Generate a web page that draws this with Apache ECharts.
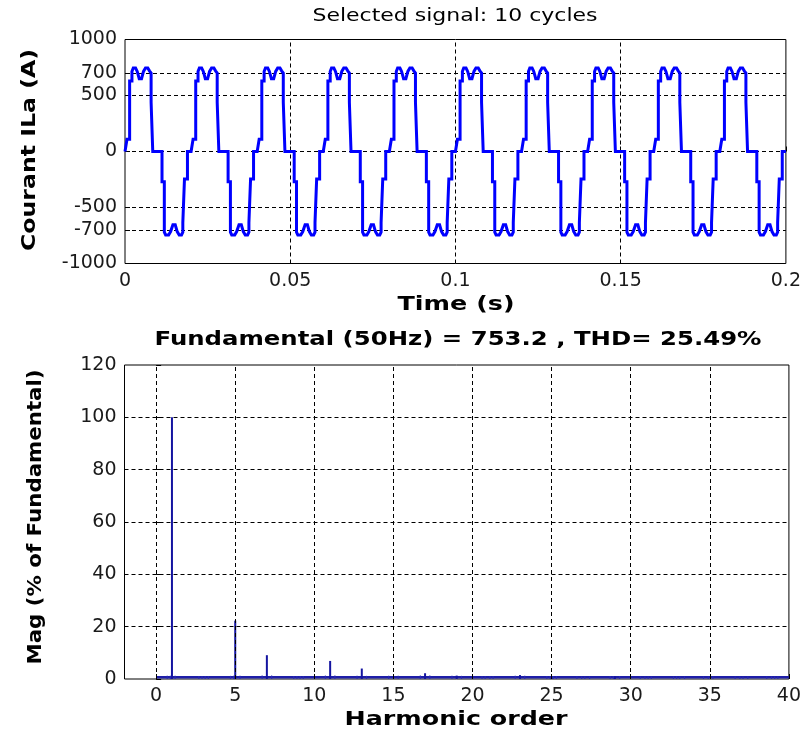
<!DOCTYPE html>
<html>
<head>
<meta charset="utf-8">
<script src="https://cdn.jsdelivr.net/npm/echarts@6/dist/echarts.min.js"></script>
<style>
  html, body { margin: 0; padding: 0; background: #fff; }
  #chart { width: 804px; height: 735px; }
</style>
</head>
<body>
<div id="chart"></div>
<script>
// ---- Line current i_La: one period (ms from the cycle start, amperes) ----
const periodTimeMs = [0, 0.6, 0.6, 1.4, 1.4, 2.1, 2.1, 2.5, 3.2, 3.7, 4.3, 5.0, 5.6, 6.2, 6.9, 7.4, 7.9, 7.9, 8.4, 8.4,
  11.2, 11.2, 11.9, 11.9, 12.3, 13.2, 13.8, 14.5, 15.2, 15.8, 16.4, 17.1, 17.5, 17.5, 18.0, 18.0, 18.9, 18.9, 20.0];
const periodCurrent = [0, 0, 110, 110, 630, 630, 715, 745, 745, 715, 650, 650, 715, 745, 745, 720, 700, 440, 440, 0,
  0, -270, -270, -720, -745, -745, -715, -655, -655, -715, -745, -745, -720, -635, -635, -245, -245, 0, 0];
// Start time (s) of each of the 10 selected cycles
const cycleStart = [0, 0.02, 0.04, 0.06, 0.08, 0.10, 0.12, 0.14, 0.16, 0.18];

// ---- FFT of the selected window ----
const harmonicOrder = [1, 5, 7, 11, 13, 17, 19, 23, 25, 29];
const harmonicMag = [100, 22.3, 9.1, 6.9, 4.0, 2.2, 1.3, 1.5, 0.5, 1.0];
// small interharmonic components (5 Hz bins)
const interOrder = [0.7, 0.9, 1.2, 2.7, 2.9, 3.1, 3.3, 4.7, 4.9, 5.3, 6.7, 7.3, 8.7, 8.9, 9.1, 9.3,
  10.7, 11.3, 12.7, 13.3, 14.7, 15.0, 15.3, 16.7, 17.3, 18.7, 19.3, 20.6, 20.8, 21.1, 21.3,
  22.7, 23.3, 24.7, 24.9, 25.1, 25.3, 26.6, 26.9, 27.1, 27.4, 28.7, 28.9, 29.3, 30.6, 30.9, 31.1, 31.3,
  32.7, 32.9, 33.1, 33.4, 34.6, 34.9, 35.2, 36.6, 36.9, 37.1, 37.4, 38.6, 38.9, 39.1, 39.3];
const interMag = [1.2, 1.2, 1.2, 1.1, 1.1, 1.1, 1.1, 1.2, 1.2, 1.2, 1.3, 1.3, 1.1, 1.1, 1.1, 1.1,
  1.3, 1.3, 1.2, 1.2, 1.2, 1.2, 1.2, 1.3, 1.3, 1.2, 1.2, 1.1, 1.1, 1.1, 1.1,
  1.2, 1.2, 1.1, 1.1, 1.1, 1.1, 1.0, 1.0, 1.0, 1.0, 1.1, 1.1, 1.1, 1.0, 1.0, 1.0, 1.0,
  1.0, 1.0, 1.0, 1.0, 1.0, 1.0, 1.0, 1.0, 1.0, 1.0, 1.0, 1.0, 1.0, 1.0, 1.0];
const spectrumSpan = [0, 40];

// ---- Tick labels ----
const timeTicks = [0, 0.05, 0.1, 0.15, 0.2];
const currentTicks = [-1000, -700, -500, 0, 500, 700, 1000];
const orderTicks = [0, 5, 10, 15, 20, 25, 30, 35, 40];
const magTicks = [0, 20, 40, 60, 80, 100, 120];

// ---- Texts ----
const topTitle = 'Selected signal: 10 cycles';
const topYName = 'Courant ILa (A)';
const topXName = 'Time (s)';
const fftTitle = 'Fundamental (50Hz) = 753.2 , THD= 25.49%';
const fftYName = 'Mag (% of Fundamental)';
const fftXName = 'Harmonic order';

const waveform = cycleStart.flatMap(t0 => periodTimeMs.map((ms, i) => [t0 + ms / 1000, periodCurrent[i]]));
const harmonics = harmonicOrder.map((h, i) => [h, harmonicMag[i]]);
const interharmonics = interOrder.map((h, i) => [h, interMag[i]]);

const FONT = '"DejaVu Sans", "Liberation Sans", sans-serif';
const TICK_FONT = { fontFamily: FONT, fontSize: 19, color: '#1a1a1a' };
const GRID_DASH = { color: '#000', width: 1, type: [4, 3] };

// stretch a label horizontally so that it spans a given width
const measureCtx = document.createElement('canvas').getContext('2d');
function wideText(text, cx, cy, size, weight, span, vertical) {
  measureCtx.font = weight + ' ' + size + 'px "DejaVu Sans"';
  const w = measureCtx.measureText(text).width;
  return {
    type: 'text', x: cx, y: cy, silent: true,
    rotation: vertical ? Math.PI / 2 : 0,
    scaleX: span / w,
    style: {
      text, fill: '#000', fontFamily: 'DejaVu Sans', fontSize: size, fontWeight: weight,
      align: 'center', verticalAlign: 'middle', textAlign: 'center', textVerticalAlign: 'middle'
    }
  };
}

function valueAxis(gridIndex, min, max, ticks) {
  return {
    type: 'value', gridIndex, min, max,
    axisLine: { show: false },
    splitLine: { show: false },
    axisTick: { show: true, inside: true, length: 5, customValues: ticks, lineStyle: { color: '#000' } },
    axisLabel: Object.assign({ customValues: ticks, formatter: v => String(v) }, TICK_FONT)
  };
}

function gridLines(xi, yi, xs, ys) {
  return {
    type: 'line', xAxisIndex: xi, yAxisIndex: yi, data: [], z: 1, silent: true,
    markLine: {
      silent: true, symbol: ['none', 'none'], label: { show: false }, animation: false,
      lineStyle: GRID_DASH, emphasis: { disabled: true },
      data: xs.map(v => ({ xAxis: v })).concat(ys.map(v => ({ yAxis: v })))
    }
  };
}

function stems(data, width, color) {
  return {
    type: 'custom', xAxisIndex: 1, yAxisIndex: 1, data, z: 4, silent: true,
    renderItem(params, api) {
      const base = api.coord([api.value(0), 0]);
      const top = api.coord([api.value(0), api.value(1)]);
      return {
        type: 'rect',
        shape: { x: base[0] - width / 2, y: top[1], width, height: base[1] - top[1] },
        style: { fill: color }
      };
    }
  };
}

const chart = echarts.init(document.getElementById('chart'), null, { renderer: 'canvas' });
chart.setOption({
  animation: false,
  backgroundColor: '#fff',
  grid: [
    { left: 125, top: 39.5, width: 662, height: 224, show: true, borderColor: '#000', borderWidth: 1, backgroundColor: '#fff' },
    { left: 124.5, top: 365, width: 669, height: 314, show: true, borderColor: '#000', borderWidth: 1, backgroundColor: '#fff' }
  ],
  xAxis: [
    valueAxis(0, 0, 0.2, timeTicks),
    valueAxis(1, -2, 40, orderTicks)
  ],
  yAxis: [
    valueAxis(0, -1000, 1000, currentTicks),
    valueAxis(1, 0, 120, magTicks)
  ],
  graphic: [
    wideText(topTitle, 455, 16, 18, 'normal', 285, false),
    wideText(topYName, 30, 150, 19, 'bold', 202, true),
    wideText(topXName, 456, 305, 19, 'bold', 117, false),
    wideText(fftTitle, 458, 340, 19, 'bold', 607, false),
    wideText(fftYName, 36, 517, 19, 'bold', 295, true),
    wideText(fftXName, 456, 720, 19, 'bold', 223, false)
  ],
  series: [
    gridLines(0, 0, timeTicks.slice(1, -1), currentTicks.slice(1, -1)),
    {
      type: 'line', xAxisIndex: 0, yAxisIndex: 0, data: waveform, z: 5,
      showSymbol: false, symbol: 'none', clip: true, silent: true,
      lineStyle: { color: '#0000ff', width: 3, join: 'miter' }
    },
    gridLines(1, 1, orderTicks.slice(0, -1), magTicks.slice(1, -1)),
    {
      // thin band of near-zero bins along the spectrum floor
      type: 'custom', xAxisIndex: 1, yAxisIndex: 1, data: [spectrumSpan], z: 3, silent: true,
      encode: { x: [0, 1] },
      renderItem(params, api) {
        const a = api.coord([api.value(0), 0]);
        const b = api.coord([api.value(1), 0]);
        return { type: 'rect', shape: { x: a[0], y: a[1] - 3, width: b[0] - a[0], height: 2.5 }, style: { fill: '#1e1ea8' } };
      }
    },
    stems(interharmonics, 1.2, '#2a2ab4'),
    stems(harmonics, 2, '#1414a0')
  ]
});
</script>
</body>
</html>
